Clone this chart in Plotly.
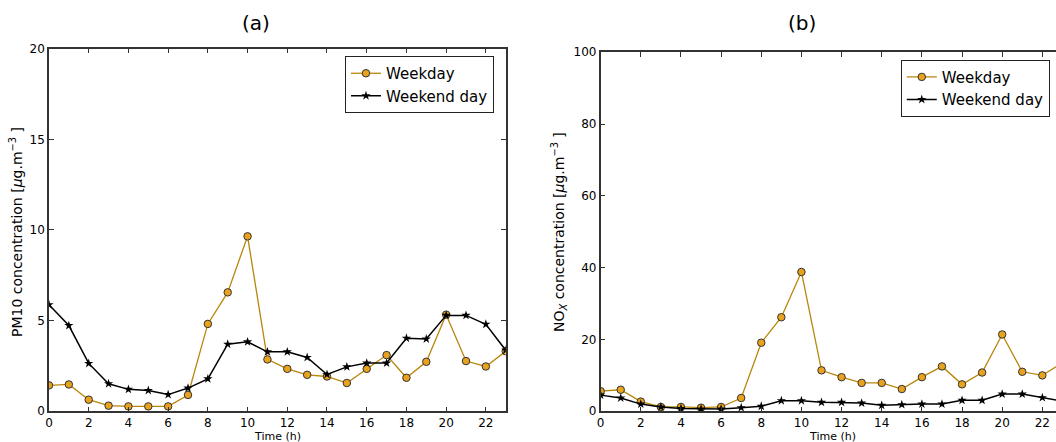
import plotly.graph_objects as go

hours = list(range(24))
x_ticks = list(range(0, 23, 2))

pm10_weekday = [1.43, 1.48, 0.64, 0.31, 0.27, 0.27, 0.27, 0.90, 4.82, 6.56, 9.65, 2.86,
                2.34, 2.01, 1.92, 1.56, 2.34, 3.10, 1.85, 2.73, 5.33, 2.77, 2.47, 3.31]
pm10_weekend = [5.88, 4.73, 2.64, 1.52, 1.21, 1.15, 0.92, 1.28, 1.79, 3.70, 3.83, 3.28,
                3.28, 2.97, 2.03, 2.45, 2.66, 2.66, 4.03, 3.99, 5.29, 5.29, 4.80, 3.37]
nox_weekday = [5.6, 6.0, 2.7, 1.2, 1.2, 1.0, 1.2, 3.7, 19.1, 26.2, 38.8, 11.4,
               9.5, 7.9, 7.9, 6.2, 9.5, 12.5, 7.5, 10.8, 21.4, 11.0, 10.0, 13.5]
nox_weekend = [4.5, 3.7, 2.0, 1.2, 0.8, 0.65, 0.65, 1.0, 1.4, 2.95, 2.95, 2.5,
               2.5, 2.3, 1.66, 1.85, 2.0, 2.0, 3.05, 3.05, 4.8, 4.8, 3.8, 2.8]

wd_fill = "#E8A21E"
wd_line = "#B8860B"
font = "DejaVu Sans"
W, H = 1056, 442

fig = go.Figure()

def add_pair(wd, we, xa, ya, legend):
    fig.add_trace(go.Scatter(
        x=hours, y=wd, mode="lines+markers", name="Weekday",
        xaxis=xa, yaxis=ya, legend=legend,
        line=dict(color=wd_line, width=1.3),
        marker=dict(symbol="circle", size=7.5, color=wd_fill,
                    line=dict(color="#333333", width=1)),
    ))
    fig.add_trace(go.Scatter(
        x=hours, y=we, mode="lines+markers", name="Weekend day",
        xaxis=xa, yaxis=ya, legend=legend,
        line=dict(color="black", width=1.5),
        marker=dict(symbol="star", size=7, color="black",
                    line=dict(color="black", width=0)),
    ))

add_pair(pm10_weekday, pm10_weekend, "x", "y", "legend")
add_pair(nox_weekday, nox_weekend, "x2", "y2", "legend2")

axis_common = dict(
    showline=True, linecolor="#333333", linewidth=1.5,
    ticks="inside", ticklen=5, tickwidth=1, tickcolor="#333333",
    showgrid=False, zeroline=False, automargin=False,
    tickfont=dict(family=font, size=12, color="black"),
)

legend_common = dict(
    bgcolor="white", bordercolor="#222222", borderwidth=1,
    font=dict(family=font, size=15, color="black"),
    xanchor="left", yanchor="top", itemwidth=30,
    tracegroupgap=0,
)

def txt(text, xpx, ypx, size, angle=0):
    return dict(text=text, x=xpx / W, y=1 - ypx / H, xref="paper", yref="paper",
                xanchor="center", yanchor="middle", textangle=angle, borderpad=0,
                showarrow=False, font=dict(family=font, size=size, color="black"))

fig.update_layout(
    width=W, height=H,
    margin=dict(l=0, r=0, t=0, b=0, autoexpand=False),
    paper_bgcolor="white", plot_bgcolor="white",
    font=dict(family=font, color="black"),
    xaxis=dict(domain=[0.0464, 0.4789], range=[0, 23], tickvals=x_ticks,
               mirror="ticks", anchor="y", **axis_common),
    yaxis=dict(domain=[0.0695, 0.8898], range=[0, 20], tickvals=[0, 5, 10, 15, 20],
               mirror="ticks", anchor="x", **axis_common),
    xaxis2=dict(domain=[0.5688, 1.0], range=[0, 22.68], tickvals=x_ticks,
                mirror="ticks", anchor="y2", **axis_common),
    yaxis2=dict(domain=[0.0695, 0.8817], range=[0, 100], tickvals=[0, 20, 40, 60, 80, 100],
                anchor="x2", **axis_common),
    legend=dict(x=0.3267, y=0.8733, **legend_common),
    legend2=dict(x=0.853, y=0.865, **legend_common),
    annotations=[
        txt("(a)", 255.7, 23, 20),
        txt("(b)", 801.7, 23, 20),
        txt("Time (h)", 277, 436, 11),
        txt("Time (h)", 832, 436, 11),
        txt("PM10 concentration [<i>μ</i>g.m<sup>−3</sup> ]", 16, 232, 14, -90),
        txt("NO<sub><i>X</i></sub> concentration [<i>μ</i>g.m<sup>−3</sup> ]", 559, 232, 14, -90),
    ],
)

fig.write_html("out.html")
